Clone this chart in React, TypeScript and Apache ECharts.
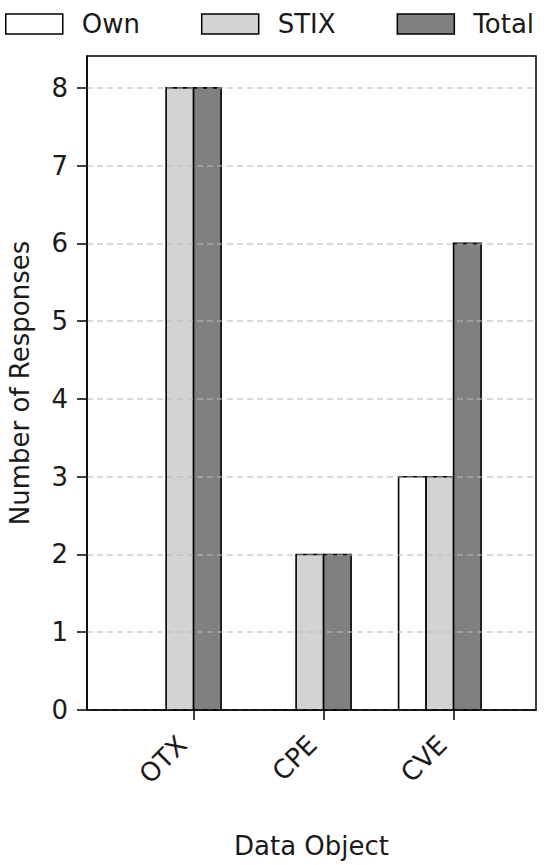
import React, { useEffect, useRef } from "react";
import * as echarts from "echarts";

const categories = ["OTX", "CPE", "CVE"];
const ownValues = [0, 0, 3];
const stixValues = [8, 2, 3];
const totalValues = [8, 2, 6];
const yTicks = [0, 1, 2, 3, 4, 5, 6, 7, 8];
const seriesNames = ["Own", "STIX", "Total"];

const FONT = "DejaVu Sans";
const TEXT = "#1a1a1a";
const BAR_W = 0.2115;

const seriesStyle = [
  { color: "#ffffff", slot: -2 },
  { color: "#d3d3d3", slot: -1 },
  { color: "#808080", slot: 0 },
];

export default function App() {
  const ref = useRef<HTMLDivElement>(null);
  useEffect(() => {
    document.body.style.margin = "0";
    if (!ref.current) return;
    const chart = echarts.init(ref.current, undefined, { renderer: "svg" });
    const valueSets = [ownValues, stixValues, totalValues];
    const series = valueSets.map((vals, si) => {
      const st = seriesStyle[si];
      return {
        name: seriesNames[si],
        type: "custom",
        z: 2,
        itemStyle: { color: st.color, borderColor: "#000", borderWidth: 1.5 },
        encode: { x: 0, y: 1 },
        data: vals.map((v, i) => [i, v]),
        renderItem: (params: any, api: any) => {
          const xi = api.value(0);
          const v = api.value(1);
          const p0 = api.coord([xi, 0]);
          const p1 = api.coord([xi, v]);
          const w = api.size([BAR_W, 0])[0];
          return {
            type: "rect",
            shape: { x: p0[0] + st.slot * w, y: p1[1], width: w, height: p0[1] - p1[1] },
            style: { fill: st.color, stroke: "#000", lineWidth: 1.6 },
          };
        },
      };
    });
    chart.setOption({
      animation: false,
      backgroundColor: "#ffffff",
      textStyle: { fontFamily: FONT },
      legend: {
        left: 5,
        top: 11,
        padding: 0,
        icon: "rect",
        itemWidth: 57,
        itemHeight: 20,
        itemGap: 61,
        textStyle: { fontSize: 26, color: TEXT, fontFamily: FONT, padding: [0, 0, 0, 14] },
        data: seriesNames.map((n, i) => ({
          name: n,
          itemStyle: { color: seriesStyle[i].color, borderColor: "#000", borderWidth: 1.5 },
        })),
      },
      grid: {
        left: 87,
        right: 14,
        top: 56,
        bottom: 155,
        outerBoundsMode: "none",
        containLabel: false,
        show: true,
        borderColor: "#000",
        borderWidth: 1.5,
        backgroundColor: "transparent",
      },
      xAxis: {
        type: "value",
        min: -0.82,
        max: 2.634,
        z: 4,
        name: "Data Object",
        nameLocation: "middle",
        nameGap: 123,
        nameTextStyle: { fontSize: 26, color: TEXT, fontFamily: FONT },
        axisLine: { show: true, onZero: false, lineStyle: { color: "#000", width: 1.5 } },
        axisTick: { show: true, length: 10, customValues: [0, 1, 2], lineStyle: { color: "#000", width: 1.5 } },
        axisLabel: {
          customValues: [0, 1, 2],
          rotate: 45,
          margin: 19,
          padding: [0, 16, 0, 0],
          fontSize: 26,
          color: TEXT,
          fontFamily: FONT,
          formatter: (v: number) => categories[Math.round(v)] ?? "",
        },
        splitLine: { show: false },
      },
      yAxis: {
        type: "value",
        min: 0,
        max: 8.41,
        z: 3,
        name: "Number of Responses",
        nameLocation: "middle",
        nameGap: 54,
        nameTextStyle: { fontSize: 26, color: TEXT, fontFamily: FONT },
        axisLine: { show: true, onZero: false, lineStyle: { color: "#000", width: 1.5 } },
        axisTick: { show: true, length: 10, customValues: yTicks, lineStyle: { color: "#000", width: 1.5 } },
        axisLabel: {
          customValues: yTicks,
          margin: 19,
          fontSize: 26,
          color: TEXT,
          fontFamily: FONT,
        },
        splitLine: {
          show: true,
          lineStyle: { color: "#b8b8b8", opacity: 0.7, width: 1.5, type: [6, 4] },
        },
      },
      series,
    });
    return () => chart.dispose();
  }, []);
  return <div ref={ref} style={{ width: 550, height: 865 }} />;
}
